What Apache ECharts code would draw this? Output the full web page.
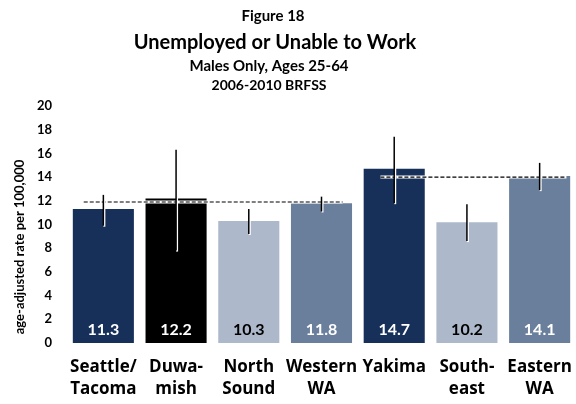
<!DOCTYPE html>
<html><head><meta charset="utf-8">
<script src="https://cdn.jsdelivr.net/npm/echarts@6/dist/echarts.min.js"></script>
<style>html,body{margin:0;padding:0;background:#fff}#c{width:576px;height:404px}</style>
</head><body><div id="c"></div>
<script>
const categories = ['Seattle/\nTacoma','Duwa-\nmish','North\nSound','Western\nWA','Yakima','South-\neast','Eastern\nWA'];
const values = [11.3, 12.2, 10.3, 11.8, 14.7, 10.2, 14.1];
const ciLow = [9.9, 7.8, 9.2, 11.1, 11.8, 8.6, 12.9];
const ciHigh = [12.5, 16.3, 11.3, 12.35, 17.4, 11.7, 15.2];
const barColors = ['#17305a','#000000','#adb9ca','#6a7f9c','#17305a','#adb9ca','#6a7f9c'];
const labelColors = ['#ffffff','#ffffff','#000000','#ffffff','#ffffff','#000000','#ffffff'];
// regional averages: [first category, last category, value]
const regionAvg = [[0, 3, 11.9], [4, 6, 14.0]];
const yTicks = [0,2,4,6,8,10,12,14,16,18,20];

const FONT = 'Lato';
const chart = echarts.init(document.getElementById('c'), null, {renderer:'canvas'});
const dashOffsets = [[-0.27, 0.29], [-0.19, 0.37]];
chart.setOption({
  animation: false,
  title: [
    {text:'Figure 18', left:268, top:4, textAlign:'center', textStyle:{fontFamily:FONT,fontWeight:'bold',fontSize:15,color:'#000'}},
    {text:'Unemployed or Unable to Work', left:270, top:28, textAlign:'center', textStyle:{fontFamily:FONT,fontWeight:'bold',fontSize:20,color:'#000'}},
    {text:'Males Only, Ages 25-64', left:264, top:54, textAlign:'center', textStyle:{fontFamily:FONT,fontWeight:'bold',fontSize:15,color:'#000'}},
    {text:'2006-2010 BRFSS', left:264, top:73, textAlign:'center', textStyle:{fontFamily:FONT,fontWeight:'bold',fontSize:14,color:'#000'}}
  ],
  graphic: [{
    type:'text', x:20, y:247, rotation:Math.PI/2,
    style:{text:'age-adjusted rate per 100,000', fontFamily:FONT, fontWeight:'bold', fontSize:13, fill:'#000', align:'center', verticalAlign:'middle'}
  }],
  grid: {left:67, top:106, width:510, height:237},
  xAxis: {
    type:'category', data:categories,
    axisLine:{show:false}, axisTick:{show:false},
    axisLabel:{fontFamily:'Open Sans', fontWeight:'bold', fontSize:17, color:'#000', lineHeight:22, margin:13, interval:0}
  },
  yAxis: {
    type:'value', min:0, max:20, interval:2,
    axisLine:{show:false}, axisTick:{show:false}, splitLine:{show:false},
    axisLabel:{fontFamily:FONT, fontWeight:'bold', fontSize:13, color:'#000', margin:15,
      formatter:(v)=> yTicks.includes(v) ? String(v) : ''}
  },
  series: [
    {
      type:'bar', barWidth:'84%',
      data: values.map((v,i)=>({value:v, itemStyle:{color:barColors[i]},
        label:{color:labelColors[i]}})),
      label:{show:true, position:'insideBottom', distance:5, fontFamily:FONT, fontWeight:'bold', fontSize:16,
        formatter:(p)=>p.value.toFixed(1)}
    },
    {
      type:'custom', z:5,
      data: regionAvg,
      renderItem:(params, api)=>{
        const s = api.value(0), e = api.value(1), v = api.value(2);
        const bw = api.size([1,0])[0];
        const p1 = api.coord([s, v]), p2 = api.coord([e, v]);
        const off = dashOffsets[params.dataIndex];
        const x1 = p1[0] + off[0]*bw, x2 = p2[0] + off[1]*bw;
        return {type:'group', children:[
          {type:'line', shape:{x1:x1,y1:p1[1],x2:x2,y2:p1[1]}, style:{stroke:'#ffffff', lineWidth:3}},
          {type:'line', shape:{x1:x1,y1:p1[1],x2:x2,y2:p1[1]}, style:{stroke:'#000000', lineWidth:1.2, lineDash:[4,2]}}
        ]};
      }
    },
    {
      type:'custom', z:6,
      data: categories.map((c,i)=>[i, ciLow[i], ciHigh[i]]),
      renderItem:(params, api)=>{
        const lo = api.coord([api.value(0), api.value(1)]);
        const hi = api.coord([api.value(0), api.value(2)]);
        return {type:'group', children:[
          {type:'line', shape:{x1:lo[0]+1,y1:lo[1]+1,x2:hi[0]+1,y2:hi[1]}, style:{stroke:'#ffffff', lineWidth:2}},
          {type:'line', shape:{x1:lo[0],y1:lo[1],x2:hi[0],y2:hi[1]}, style:{stroke:'#000000', lineWidth:1.5}}
        ]};
      }
    }
  ]
});
</script></body></html>
